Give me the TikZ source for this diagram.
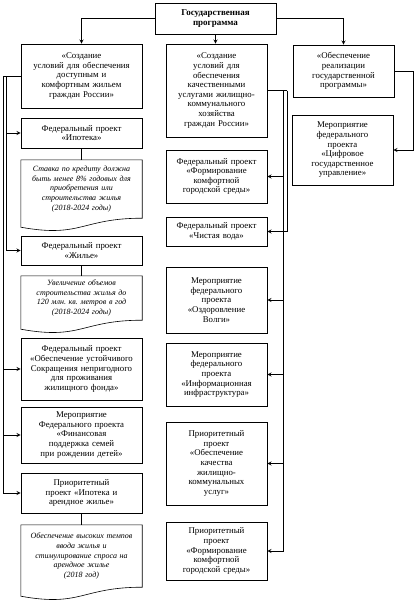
\documentclass[tikz,border=0pt]{standalone}
\usepackage{fontspec}
\setmainfont{Liberation Serif}
\usetikzlibrary{calc,shadows}
\frenchspacing

\begin{document}
\begin{tikzpicture}[x=1pt,y=-1pt,
  box/.style={draw, line width=.6pt, fill=white, align=center, inner sep=1pt,
    font=\fontsize{8.8}{9.6}\selectfont,
    drop shadow={shadow xshift=.8pt,shadow yshift=-.8pt,fill=black!35}},
  lbox/.style={box, minimum width=121pt, text width=119pt},
  mbox/.style={box, minimum width=101pt, text width=99pt},
  docbox/.style={align=center, inner sep=1pt, minimum width=121pt, text width=119pt,
    font=\fontsize{8}{9.7}\selectfont\itshape},
  line/.style={line width=.9pt}]

\useasboundingbox (0,0) rectangle (420,600);

\node[lbox, minimum height=31pt, font=\fontsize{9}{10}\selectfont\bfseries] (gp) at (215.5,18.5) {Государственная\\программа};

% left column
\node[lbox, minimum height=64pt] (l1) at (81.5,76) {«Создание\\условий для обеспечения\\доступным и\\комфортным жильем\\граждан России»};
\node[lbox, minimum height=30pt] (l2) at (81.5,133) {Федеральный проект\\«Ипотека»};
\node[docbox, minimum height=58pt] (d1) at (81.5,189) {Ставка по кредиту должна\\быть менее 8\% годовых для\\приобретения или\\строительства жилья\\(2018-2024 годы)};
\node[lbox, minimum height=29pt] (l3) at (81.5,250.5) {Федеральный проект\\«Жилье»};
\node[docbox, minimum height=44pt] (d2) at (81.5,298) {Увеличение объемов\\строительства жилья до\\120 млн. кв. метров в год\\(2018-2024 годы)};
\node[lbox, minimum height=62pt] (l4) at (81.5,369) {Федеральный проект\\«Обеспечение устойчивого\\Сокращения непригодного\\для проживания\\жилищного фонда»};
\node[lbox, minimum height=56pt] (l5) at (81.5,435) {Мероприятие\\Федерального проекта\\«Финансовая\\поддержка семей\\при рождении детей»};
\node[lbox, minimum height=40pt] (l6) at (81.5,493) {Приоритетный\\проект «Ипотека и\\арендное жилье»};
\node[docbox, minimum height=62pt] (d3) at (81.5,556) {Обеспечение высоких темпов\\ввода жилья и\\стимулирование спроса на\\арендное жилье\\(2018 год)};

% middle column
\node[mbox, minimum height=93pt] (m1) at (216.5,90.5) {«Создание\\условий для\\обеспечения\\качественными\\услугами жилищно-\\коммунального\\хозяйства\\граждан России»};
\node[mbox, minimum height=53pt] (m2) at (216.5,176.5) {Федеральный проект\\«Формирование\\комфортной\\городской среды»};
\node[mbox, minimum height=29pt] (m3) at (216.5,231.5) {Федеральный проект\\«Чистая вода»};
\node[mbox, minimum height=66pt] (m4) at (216.5,300) {Мероприятие\\федерального\\проекта\\«Оздоровление\\Волги»};
\node[mbox, minimum height=63pt] (m5) at (216.5,374.5) {Мероприятие\\федерального\\проекта\\«Информационная\\инфраструктура»};
\node[mbox, minimum height=83pt] (m6) at (216.5,463.5) {Приоритетный\\проект\\«Обеспечение\\качества\\жилищно-\\коммунальных\\услуг»};
\node[mbox, minimum height=58pt] (m7) at (216.5,551) {Приоритетный\\проект\\«Формирование\\комфортной\\городской среды»};

% right column
\node[mbox, minimum height=52pt] (r1) at (343.5,71) {«Обеспечение\\реализации\\государственной\\программы»};
\node[mbox, minimum height=70pt] (r2) at (342.5,150) {Мероприятие\\федерального\\проекта\\«Цифровое\\государственное\\управление»};

% document shapes
\foreach \d in {d1,d2,d3}
  \draw[line width=.6pt] (\d.north west) -- (\d.north east) -- (\d.south east)
    .. controls (\d.south) and ($(\d.south)+(0,20)$) .. ($(\d.south west)+(0,9)$) -- cycle;

\coordinate (lbusA) at ($(l1.west)+(-14,0)$);
\coordinate (lbusB) at ($(l1.west)+(-17,0)$);
\coordinate (mbusA) at ($(m1.east)+(16,0)$);
\coordinate (mbusB) at ($(m1.east)+(20,0)$);
\coordinate (rbus) at ($(r1.east)+(19,0)$);

\draw[line] (gp.west) [-stealth]-| (l1.north);
\draw[line] (gp.south) [-stealth]-- (gp.south |- m1.north);
\draw[line] (gp.east) [-stealth]-| (r1.north);

\draw[line] (l1.west) -- (lbusB);
\draw[line] (lbusA) [-stealth]|- (l2.west);
\draw[line] (lbusA) [-stealth]|- (l3.west);
\draw[line] (lbusB) [-stealth]|- (l4.west);
\draw[line] (lbusB) [-stealth]|- (l5.west);
\draw[line] (lbusB) [-stealth]|- (l6.west);
\draw[line] (l2) -- (d1);
\draw[line] (l3) -- (d2);
\draw[line] (l6) -- (d3);

\draw[line] (m1.east) -- (mbusB);
\draw[line] (mbusA) [-stealth]|- (m2.east);
\draw[line] (mbusB) [-stealth]|- (m3.east);
\draw[line] (mbusA) [-stealth]|- (m4.east);
\draw[line] (mbusA) [-stealth]|- (m5.east);
\draw[line] (mbusA) [-stealth]|- (m6.east);
\draw[line] (mbusA) [-stealth]|- (m7.east);

\draw[line] (r1.east) -- (rbus) [-stealth]|- (r2.east);

\end{tikzpicture}
\end{document}
